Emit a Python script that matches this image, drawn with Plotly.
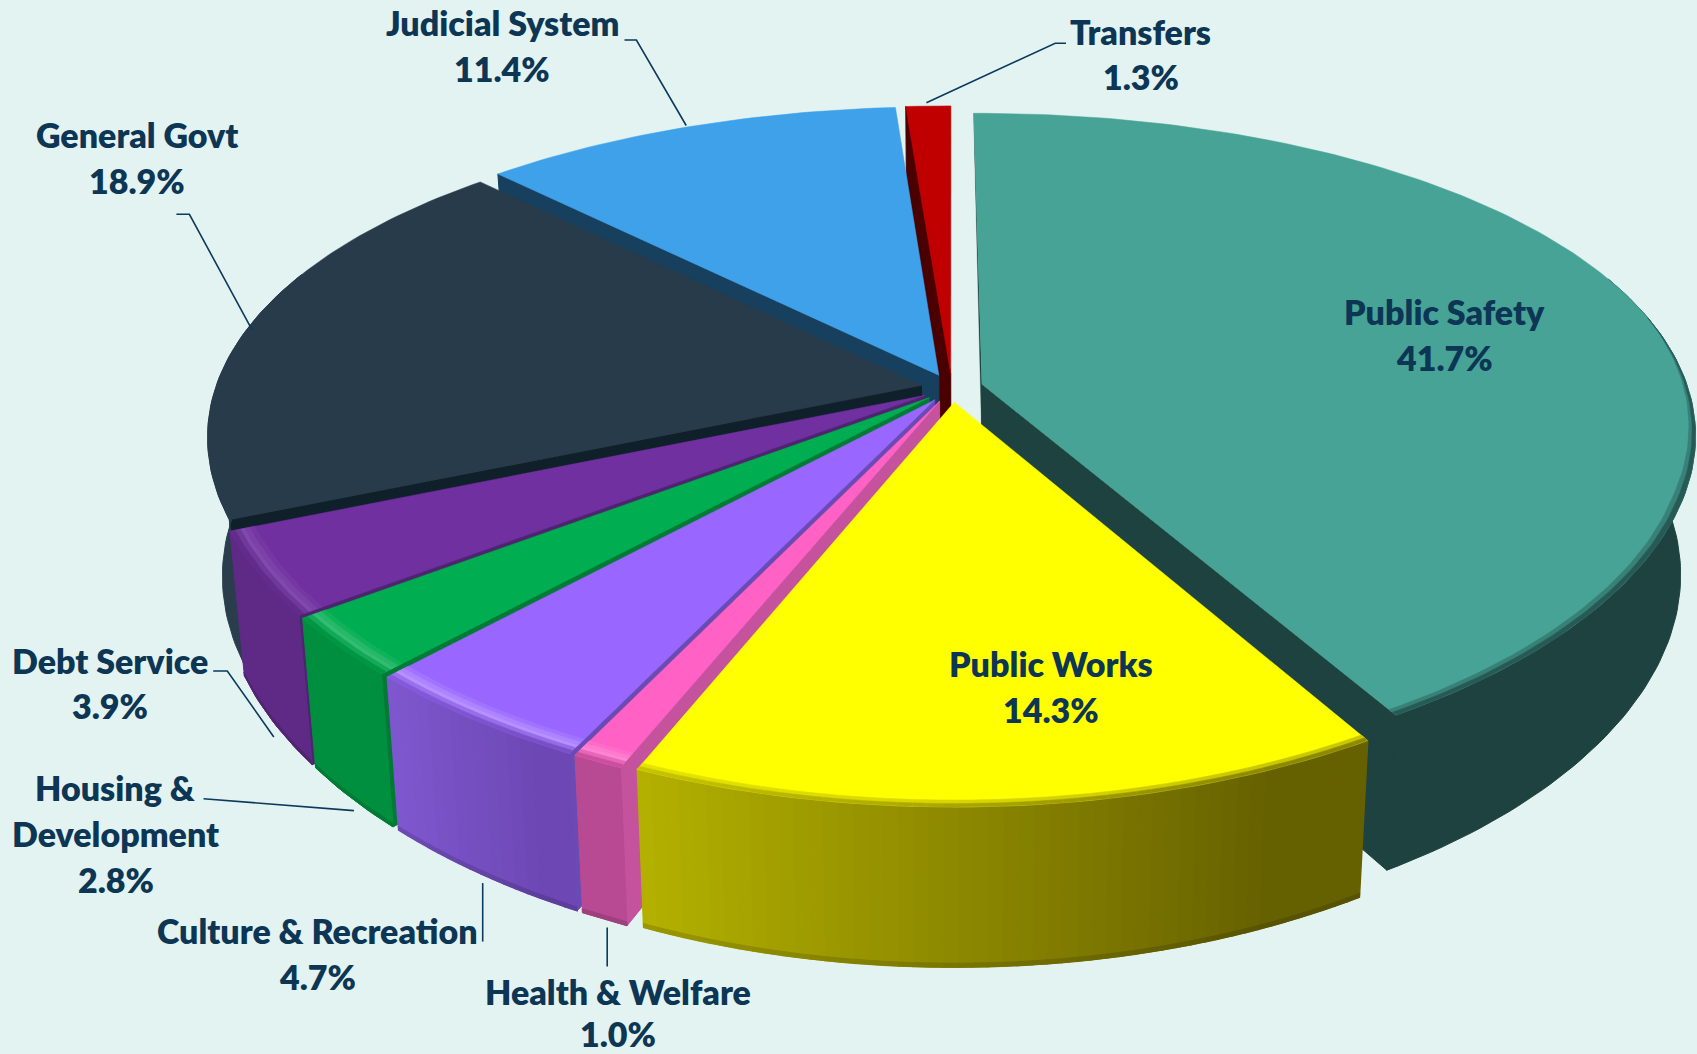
import math
import plotly.graph_objects as go

# ---- data ----
categories = ["Public Safety", "Public Works", "Health & Welfare", "Culture & Recreation",
              "Housing & Development", "Debt Service", "General Govt", "Judicial System", "Transfers"]
shares = [41.7, 14.3, 1.0, 4.7, 2.8, 3.9, 18.9, 11.4, 1.3]
top_colors = ["#46a396", "#ffff00", "#ff61c4", "#9966ff", "#00ad50", "#7030a0", "#283b4b", "#3fa1e9", "#c00000"]
wall_start = ["#1d423f", "#666100", "#b84a93", "#6d48b4", "#008f3f", "#5e2a86", "#2a3d4c", "#17405e", "#4a0000"]
wall_end = ["#1d423f", "#b4b100", "#b84a93", "#7f58cf", "#008f3f", "#5e2a86", "#2a3d4c", "#17405e", "#4a0000"]
cut_colors = ["#1d423f", "#666100", "#c4529c", "#6a4bb5", "#007a35", "#4e2370", "#10202a", "#17405e", "#4a0000"]
rim_gain = [0.0, 0.0, 0.22, 0.28, 0.2, 0.12, 0.0, 0.0, 0.0]

# ---- label text layout: (text, x, y) in picture pixels ----
S = 1697 / 1568
label_lines = [
    ("Public Safety", 1335, 288), ("41.7%", 1335, 330),
    ("Public Works", 971, 613), ("14.3%", 971, 656),
    ("Health & Welfare", 571, 916), ("1.0%", 571, 955),
    ("Culture & Recreation", 293, 860), ("4.7%", 293, 902),
    ("Housing &", 107, 728), ("Development", 107, 770), ("2.8%", 107, 813),
    ("Debt Service", 102, 610), ("3.9%", 102, 652),
    ("General Govt", 127, 124), ("18.9%", 127, 167),
    ("Judicial System", 464, 21), ("11.4%", 464, 63),
    ("Transfers", 1054, 29), ("1.3%", 1054, 71),
]
leaders = [
    [(856, 95), (975, 40), (985, 40)],
    [(634, 116), (588, 37), (577, 37)],
    [(233, 305), (175, 198), (163, 198)],
    [(253, 681), (210, 620), (197, 620)],
    [(327, 749), (188, 738)],
    [(446, 816), (446, 870)],
    [(561, 857), (561, 893)],
]

# ---- projection of the pie disc ----
CX, CY, A, B, KX, KY, SHRINK, C, KC, EXPLODE = 952, 388, 706, 323, 0.15, 0.187, 0.02, 136, 0.145, 0.044
# small angular warp of the camera (degrees added at a given pie angle)
WARP = [(0, -0.4), (150, -0.5), (200, 1.0), (250, 1.0), (314, 1.5), (355, 0.5), (360, -0.4)]


def warp(t):
    d = math.degrees(t)
    for (a, x), (b, y) in zip(WARP, WARP[1:]):
        if a <= d <= b:
            return t + math.radians(x + (y - x) * (d - a) / (b - a))
    return t


def project(u, v, h=0.0):
    x = CX + A * u / (1 + KX * v) * (1 - SHRINK * h)
    y = CY - B * v / (1 + KY * v) + h * C / (1 + KC * v)
    return x, y


def hex2rgb(c):
    return [int(c[i:i + 2], 16) for i in (1, 3, 5)]


def mix(c1, c2, t):
    a, b = hex2rgb(c1), hex2rgb(c2)
    return "#%02x%02x%02x" % tuple(round(x + (y - x) * t) for x, y in zip(a, b))


def poly(traces, pts, color, width=0.5):
    xs = [p[0] for p in pts] + [pts[0][0]]
    ys = [p[1] for p in pts] + [pts[0][1]]
    traces.append(go.Scatter(x=xs, y=ys, mode="lines", fill="toself", fillcolor=color,
                             line=dict(color=color, width=width), hoverinfo="skip", showlegend=False))


def arc(t0, t1, step=1.0):
    n = max(2, int(abs(t1 - t0) / step) + 1)
    return [math.radians(t0 + (t1 - t0) * i / (n - 1)) for i in range(n)]


slices = []
cum = 0.0
for i, val in enumerate(shares):
    a0 = cum * 3.6
    cum += val
    a1 = cum * 3.6
    slices.append((i, a0, a1))
slices.sort(key=lambda s: -math.cos(math.radians((s[1] + s[2]) / 2)))

traces = []
for i, a0, a1 in slices:
    mid = math.radians((a0 + a1) / 2)
    ox, oy = EXPLODE * math.sin(mid), EXPLODE * math.cos(mid)
    top, ws, we, cut = top_colors[i], wall_start[i], wall_end[i], cut_colors[i]


    def P(r, t, h=0.0):
        tw = warp(t)
        return project(ox + r * math.sin(tw), oy + r * math.cos(tw), h)


    # cut faces
    if math.sin(math.radians(a1)) > 1e-9:
        t = math.radians(a1)
        poly(traces, [P(0, t), P(1, t), P(1, t, 1), P(0, t, 1)], cut, 1.0)
    if math.sin(math.radians(a0)) < 1e-9:
        t = math.radians(a0)
        if a0 == 0:
            poly(traces, [P(0, t), P(1, t), P(0.85, t, 0.1), P(0, t, 0.4)], cut, 0.3)
        else:
            poly(traces, [P(0, t), P(1, t), P(1, t, 1), P(0, t, 1)], cut, 1.0)

    # outer wall, only where it faces the camera; strips when it carries a gradient
    ts = arc(a0, a1, 1.0)
    strips = []
    if ws == we:
        vis = [t for t in ts if math.cos(t) < 0.35]
        if len(vis) >= 2:
            poly(traces, [P(1, t) for t in vis] + [P(1, t, 1) for t in reversed(vis)], ws, 1.0)
            strips.append((math.degrees(vis[0]), math.degrees(vis[-1]), ws))
    else:
        seg = arc(a0, a1, 1.0)
        for j in range(len(seg) - 1):
            f = (j + 0.5) / (len(seg) - 1)
            col = mix(ws, we, max(0.0, (f - 0.15) / 0.85))
            poly(traces, [P(1, seg[j]), P(1, seg[j + 1]), P(1, seg[j + 1], 1), P(1, seg[j], 1)], col, 1.4)
            strips.append((math.degrees(seg[j]), math.degrees(seg[j + 1]), col))

    # top face
    poly(traces, [P(0, 0)] + [P(1, t) for t in ts], top)

    # soft rim and lower edge where the wall shows
    if i >= 6:
        continue
    g = rim_gain[i]
    bands = [(0.966, 0.973, 0.3 * g, 0.0), (0.973, 0.98, 0.7 * g, 0.0), (0.98, 0.986, g, 0.0),
             (0.986, 0.993, 0.6 * g, 0.35), (0.993, 1.0, 0.0, 0.75)]
    for lo, hi, col in strips:
        taper = None
        if i == 0:
            lo = 78
            taper = 32.0
        run = arc(lo, hi, 1.0)


        def R(r, t):
            if taper is None:
                return r
            return 1 - (1 - r) * min(1.0, (math.degrees(t) - lo) / taper)


        for r0, r1, gain, wall in bands:
            if gain == 0 and wall == 0:
                continue
            poly(traces, [P(R(r0, t), t) for t in run] + [P(R(r1, t), t) for t in reversed(run)],
                 mix(mix(top, "#ffffff", gain), col, wall))
        if i > 0:
            poly(traces, [P(1, t, 0.975) for t in run] + [P(1, t, 1) for t in reversed(run)],
                 mix(col, "#000000", 0.14), 1.0)

fig = go.Figure(traces)

for text, x, y in label_lines:
    fig.add_annotation(x=x * S, y=y * S, text=text, showarrow=False, xanchor="center", yanchor="middle",
                       font=dict(family="Lato", size=34, color="#0d3655", weight=800))
for pts in leaders:
    path = "M " + " L ".join(f"{x * S:.1f},{y * S:.1f}" for x, y in pts)
    fig.add_shape(type="path", path=path, line=dict(color="#0b3a5c", width=1.6), xref="x", yref="y")

fig.update_layout(width=1697, height=1054, margin=dict(l=0, r=0, t=0, b=0),
                  paper_bgcolor="#e3f3f1", plot_bgcolor="#e3f3f1", showlegend=False,
                  xaxis=dict(range=[0, 1697], visible=False, fixedrange=True),
                  yaxis=dict(range=[1054, 0], visible=False, fixedrange=True))
fig.write_html("out.html", config=dict(displayModeBar=False),
               post_script="document.body.style.margin='0';document.body.style.background='#e3f3f1';"
                           "document.documentElement.style.overflow='hidden';")
